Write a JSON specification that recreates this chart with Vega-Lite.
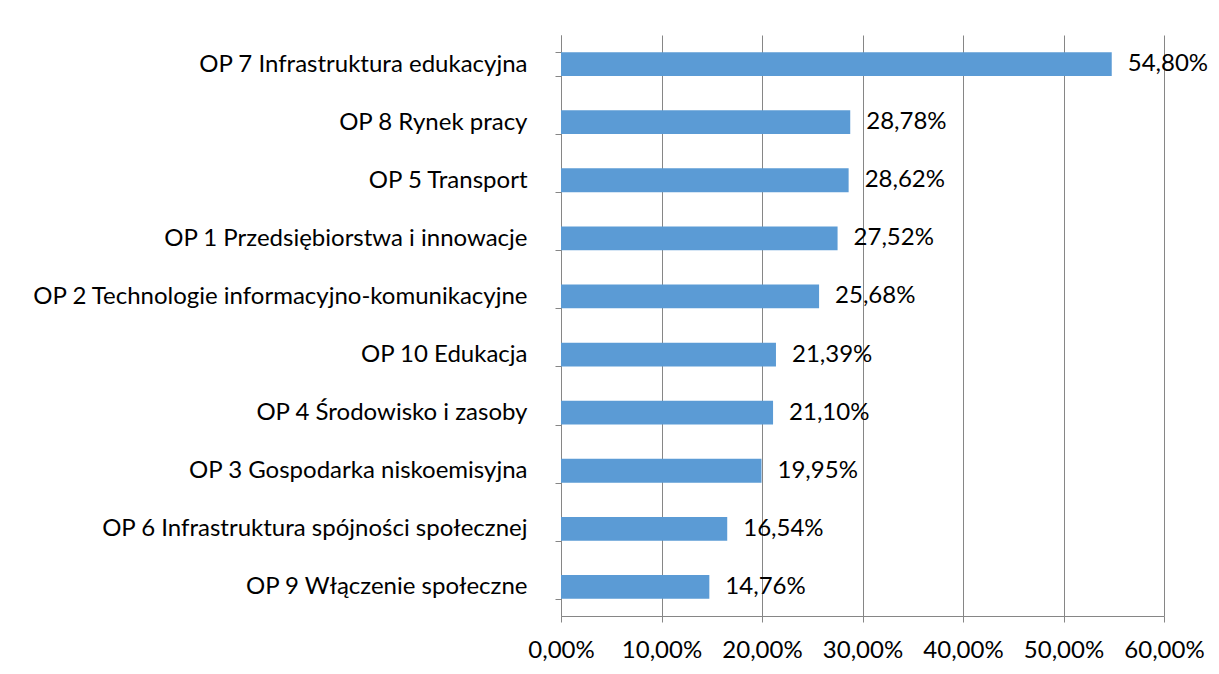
{
  "$schema": "https://vega.github.io/schema/vega-lite/v6.json",
  "autosize": {"type": "none"},
  "padding": {"left": 561, "top": 35, "right": 55, "bottom": 58},
  "width": 603,
  "height": 581,
  "background": "white",
  "config": {
    "view": {"stroke": null},
    "font": "Lato",
    "axis": {"labelFont": "Lato", "labelFontSize": 24, "labelColor": "#000000"}
  },
  "data": {
    "values": [
      {"kategoria": "OP 7 Infrastruktura edukacyjna", "wartosc": 54.80, "etykieta": "54,80%"},
      {"kategoria": "OP 8 Rynek pracy", "wartosc": 28.78, "etykieta": "28,78%"},
      {"kategoria": "OP 5 Transport", "wartosc": 28.62, "etykieta": "28,62%"},
      {"kategoria": "OP 1 Przedsiębiorstwa i innowacje", "wartosc": 27.52, "etykieta": "27,52%"},
      {"kategoria": "OP 2 Technologie informacyjno-komunikacyjne", "wartosc": 25.68, "etykieta": "25,68%"},
      {"kategoria": "OP 10 Edukacja", "wartosc": 21.39, "etykieta": "21,39%"},
      {"kategoria": "OP 4 Środowisko i zasoby", "wartosc": 21.10, "etykieta": "21,10%"},
      {"kategoria": "OP 3 Gospodarka niskoemisyjna", "wartosc": 19.95, "etykieta": "19,95%"},
      {"kategoria": "OP 6 Infrastruktura spójności społecznej", "wartosc": 16.54, "etykieta": "16,54%"},
      {"kategoria": "OP 9 Włączenie społeczne", "wartosc": 14.76, "etykieta": "14,76%"}
    ]
  },
  "encoding": {
    "y": {
      "field": "kategoria",
      "type": "nominal",
      "sort": null,
      "title": null,
      "scale": {"paddingInner": 0.59, "paddingOuter": 0.295},
      "axis": {
        "domainColor": "#868686",
        "tickColor": "#868686",
        "tickBand": "extent",
        "tickSize": 6,
        "labelPadding": 28,
        "labelLimit": 700
      }
    },
    "x": {
      "field": "wartosc",
      "type": "quantitative",
      "title": null,
      "scale": {"domain": [0, 60], "nice": false},
      "axis": {
        "values": [0, 10, 20, 30, 40, 50, 60],
        "labelExpr": "replace(format(datum.value, '.2f'), '.', ',') + '%'",
        "grid": true,
        "gridColor": "#868686",
        "gridOpacity": 1,
        "domainColor": "#868686",
        "tickColor": "#868686",
        "tickSize": 6,
        "labelPadding": 16,
        "labelFlush": false
      }
    }
  },
  "layer": [
    {"mark": {"type": "bar", "color": "#5B9BD5"}},
    {
      "mark": {"type": "text", "align": "left", "dx": 16, "fontSize": 24, "font": "Lato", "color": "#000000"},
      "encoding": {"text": {"field": "etykieta"}}
    }
  ]
}
